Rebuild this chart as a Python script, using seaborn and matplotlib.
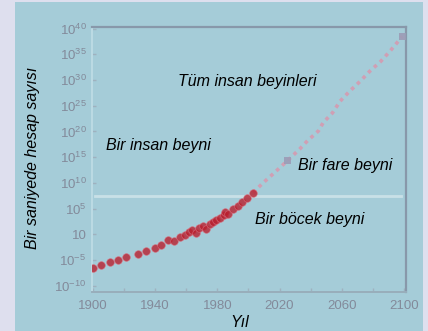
import numpy as np
import pandas as pd
import matplotlib
matplotlib.use("Agg")
import matplotlib.pyplot as plt
from matplotlib.ticker import FixedLocator, FixedFormatter, MultipleLocator
import seaborn as sns

# Computing machines built so far: year and log10(calculations per second)
hist_years = [1900, 1905, 1911, 1916, 1921, 1929, 1934, 1940, 1944, 1948,
              1952, 1956, 1959, 1962, 1964, 1966, 1968, 1971, 1973, 1975,
              1977, 1979, 1982, 1984, 1985, 1987, 1990, 1993, 1996, 1999, 2003]
hist_log_cps = [-6.5, -6.0, -5.4, -4.9, -4.4, -3.8, -3.2, -2.7, -2.0, -1.1,
                -1.3, -0.5, -0.1, 0.4, 0.8, 0.2, 1.2, 1.6, 1.0, 2.0,
                2.4, 2.8, 3.1, 3.8, 4.3, 4.0, 5.0, 5.6, 6.2, 7.0, 8.1]

# Projected trend
proj_years = [2003, 2009, 2016, 2025, 2033, 2038, 2045, 2048, 2054, 2059,
              2065, 2072, 2078, 2085, 2091, 2099]
proj_log_cps = [8.1, 9.9, 11.8, 14.3, 16.6, 18.2, 20.1, 21.7, 23.6, 25.9,
                27.8, 29.8, 31.7, 33.6, 35.6, 38.5]

# Milestones on the projection
milestone_years = [2025, 2099]
milestone_log_cps = [14.3, 38.5]

# Brain capacity reference level
insect_level = 7.5

ytick_exps = [40, 35, 30, 25, 20, 15, 10, 5, 0, -5, -10]
ytick_labels = [r"$10^{40}$", r"$10^{35}$", r"$10^{30}$", r"$10^{25}$",
                r"$10^{20}$", r"$10^{15}$", r"$10^{10}$", r"$10^{5}$",
                "10", r"$10^{-5}$", r"$10^{-10}$"]
xtick_years = [1900, 1940, 1980, 2020, 2060, 2100]

annotations = [
    ("Tüm insan beyinleri", 1954.7, 28.8),
    ("Bir insan beyni", 1908.4, 16.4),
    ("Bir fare beyni", 2031.8, 12.5),
    ("Bir böcek beyni", 2004.2, 2.05),
]

plt.rcParams["font.family"] = ["Liberation Sans", "DejaVu Sans"]
plt.rcParams["mathtext.fontset"] = "custom"
plt.rcParams["mathtext.rm"] = "Liberation Sans"
plt.rcParams["mathtext.it"] = "Liberation Sans:italic"

panel_color = "#a5ccd8"
page_color = "#dedfee"
frame_color = "#8898aa"
tick_color = "#838a9a"

hist = pd.DataFrame({"year": hist_years, "cps": np.power(10.0, hist_log_cps)})
proj = pd.DataFrame({"year": proj_years, "cps": np.power(10.0, proj_log_cps)})
miles = pd.DataFrame({"year": milestone_years,
                      "cps": np.power(10.0, milestone_log_cps)})

fig = plt.figure(figsize=(4.28, 3.31), dpi=100, facecolor=page_color)

# light blue card behind the chart
card = fig.add_axes([15 / 428, 0, (423 - 15) / 428, 1 - 2 / 331], zorder=-1)
card.set_facecolor(panel_color)
card.set_xticks([])
card.set_yticks([])
for s in card.spines.values():
    s.set_visible(False)

ax = fig.add_axes([92 / 428, 1 - 292 / 331, (406 - 92) / 428, (292 - 27) / 331])
ax.set_facecolor(panel_color)
ax.set_yscale("log")
ax.set_xlim(1899.4, 2101.3)
ax.set_ylim(10 ** -11.2, 10 ** 40.3)

ax.axhline(10 ** insect_level, xmin=0.01, xmax=0.985, color="white",
           alpha=0.4, lw=2, zorder=1)

sns.lineplot(data=proj, x="year", y="cps", ax=ax, color="#d59ab0",
             lw=2.6, linestyle=(0, (1, 1.2)), alpha=0.9, zorder=2)
sns.scatterplot(data=hist, x="year", y="cps", ax=ax, color="#b81f2e",
                s=30, edgecolor="#d86a7a", linewidth=0.5, alpha=0.8, zorder=3)
sns.scatterplot(data=miles, x="year", y="cps", ax=ax, color="#9c9cb6",
                marker="s", s=28, edgecolor="none", alpha=0.9, zorder=4)

for text, x, y in annotations:
    ax.text(x, 10 ** y, text, fontsize=11.5, style="italic", color="black",
            ha="left", va="baseline", zorder=5)

ax.yaxis.set_major_locator(FixedLocator([10.0 ** e for e in ytick_exps]))
ax.yaxis.set_major_formatter(FixedFormatter(ytick_labels))
ax.yaxis.set_minor_locator(FixedLocator([]))
ax.xaxis.set_major_locator(FixedLocator(xtick_years))
ax.xaxis.set_minor_locator(MultipleLocator(20))
ax.tick_params(axis="both", which="both", direction="in", colors="#9fb2bf",
               labelcolor=tick_color, labelsize=9.5, length=3, width=1)
ax.tick_params(axis="y", pad=4)
ax.tick_params(axis="x", pad=6)
ax.set_xlabel("")
ax.set_ylabel("")

for side in ("top", "right"):
    ax.spines[side].set_color(frame_color)
    ax.spines[side].set_linewidth(1.6)
ax.spines["bottom"].set_color("#98aebb")
ax.spines["bottom"].set_linewidth(1.4)
ax.spines["left"].set_color("#bcdbe4")
ax.spines["left"].set_linewidth(1.4)

fig.text(33 / 428, 1 - 158 / 331, "Bir saniyede hesap sayısı", rotation=90,
         fontsize=11.5, style="italic", color="black",
         ha="center", va="center")
fig.text(240 / 428, 1 - 327 / 331, "Yıl", fontsize=11.5, style="italic",
         color="black", ha="center", va="baseline")

fig.savefig("out.png", dpi=100, facecolor=page_color)
